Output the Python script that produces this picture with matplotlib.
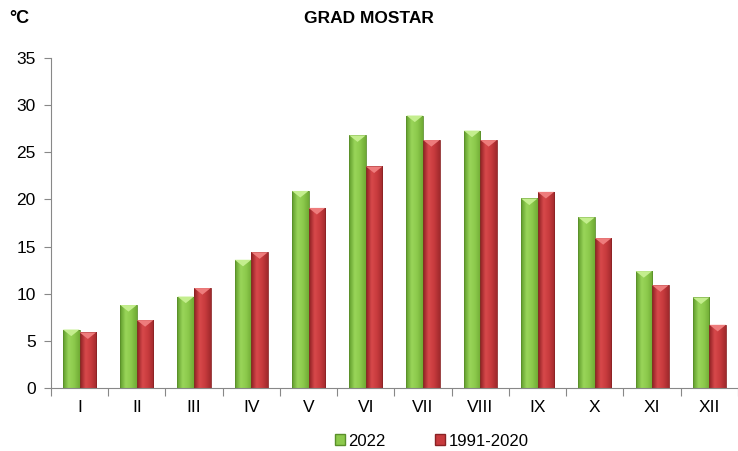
import matplotlib.pyplot as plt
import numpy as np
from matplotlib.colors import LinearSegmentedColormap
import matplotlib.patches as mpatches

plt.rcParams['font.family'] = ['Liberation Sans', 'DejaVu Sans']

months = ["I", "II", "III", "IV", "V", "VI", "VII", "VIII", "IX", "X", "XI", "XII"]
t2022 = [6.2, 8.8, 9.7, 13.6, 20.9, 26.8, 28.9, 27.3, 20.1, 18.1, 12.4, 9.6]
t_norm = [5.9, 7.2, 10.6, 14.4, 19.1, 23.5, 26.3, 26.3, 20.8, 15.9, 10.9, 6.7]

green_cmap = LinearSegmentedColormap.from_list("g", ["#5e9a2a", "#9ad65a", "#8cc94c", "#6fab34"])
red_cmap = LinearSegmentedColormap.from_list("r", ["#8c1f22", "#d8494b", "#c73a3d", "#a02a2d"])

fig = plt.figure(figsize=(7.38, 4.51), dpi=100)
ax = fig.add_axes([0.069, 0.1397, 0.931, 0.7317])

x = np.arange(len(months))
w = 0.29
grad = np.linspace(0, 1, 64).reshape(1, -1)


def fancy_bars(xpos, vals, cmap, tri_col, edge):
    bars = ax.bar(xpos, vals, w, color="none", edgecolor=edge, linewidth=0.6, zorder=3)
    for b in bars:
        x0, y0 = b.get_x(), b.get_y()
        bw, bh = b.get_width(), b.get_height()
        im = ax.imshow(grad, cmap=cmap, aspect="auto", extent=[x0, x0 + bw, y0, y0 + bh],
                       zorder=2, interpolation="bicubic")
        im.set_clip_path(b)
        tri = mpatches.Polygon([[x0, y0 + bh], [x0 + bw, y0 + bh], [x0 + bw / 2, y0 + bh - 0.7]],
                               closed=True, facecolor=tri_col, edgecolor="none", zorder=4)
        ax.add_patch(tri)
    return bars


fancy_bars(x - w / 2, t2022, green_cmap, "#c4ee8e", "#5a8f2a")
fancy_bars(x + w / 2, t_norm, red_cmap, "#ee7c7c", "#8a2224")

ax.set_xlim(-0.5, len(months) - 0.5)
ax.set_ylim(0, 35)
ax.set_yticks(np.arange(0, 36, 5))
ax.set_xticks(np.arange(-0.5, len(months), 1))
ax.set_xticklabels([])
ax.set_xticks(x, minor=True)
ax.set_xticklabels(months, minor=True)
ax.tick_params(axis="x", which="major", length=6, color="#888888", direction="out")
ax.tick_params(axis="x", which="minor", length=0, pad=9, labelsize=12.5)
ax.tick_params(axis="y", length=5, color="#888888", labelsize=12.5, pad=6)
for s in ["top", "right"]:
    ax.spines[s].set_visible(False)
for s in ["left", "bottom"]:
    ax.spines[s].set_color("#888888")

fig.text(0.5, 0.958, "GRAD MOSTAR", ha="center", va="center", fontsize=12.5, fontweight="bold")
fig.text(0.012, 0.958, "°C", ha="left", va="center", fontsize=13, fontweight="bold")

h1 = mpatches.Patch(facecolor="#8cc94c", edgecolor="#5a8f2a", label="2022")
h2 = mpatches.Patch(facecolor="#c73a3d", edgecolor="#8a2224", label="1991-2020")
fig.legend(handles=[h1, h2], loc="center", bbox_to_anchor=(0.585, 0.022), ncol=2, frameon=False,
           fontsize=12, handlelength=0.6, handleheight=0.6, handletextpad=0.2, columnspacing=3.0)

fig.savefig("out.png", dpi=100)
